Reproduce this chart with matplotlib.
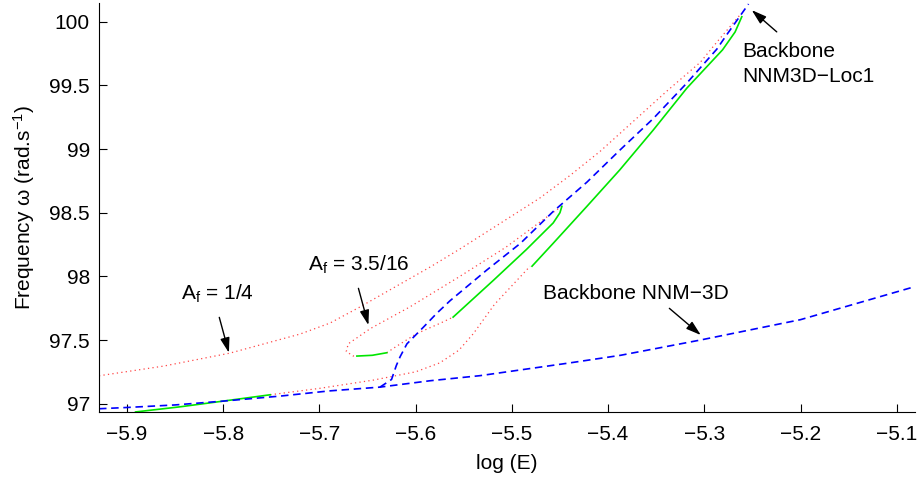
import matplotlib
matplotlib.use('Agg')
import matplotlib.pyplot as plt

plt.rcParams['font.family'] = ['Liberation Sans', 'DejaVu Sans']
plt.rcParams['mathtext.fontset'] = 'custom'
plt.rcParams['mathtext.rm'] = 'Liberation Sans'
plt.rcParams['mathtext.it'] = 'Liberation Sans:italic'

FS = 15

# backbone curves (blue dashed)
bb_nnm3d_x = [-5.929, -5.9, -5.85, -5.8, -5.74, -5.69, -5.637, -5.585, -5.533,
              -5.44, -5.387, -5.304, -5.2, -5.081]
bb_nnm3d_y = [96.96, 96.97, 96.99, 97.02, 97.06, 97.10, 97.13, 97.18, 97.22,
              97.32, 97.38, 97.50, 97.66, 97.92]

bb_loc1_x = [-5.637, -5.625, -5.620, -5.616, -5.609, -5.592, -5.578, -5.564, -5.526,
             -5.491, -5.457, -5.422, -5.388, -5.353, -5.318, -5.304, -5.287, -5.277, -5.254]
bb_loc1_y = [97.13, 97.19, 97.30, 97.37, 97.47, 97.60, 97.71, 97.81, 98.05,
             98.26, 98.51, 98.74, 98.99, 99.24, 99.52, 99.64, 99.785, 99.895, 100.14]

# forced response Af = 1/4 : stable (green) and unstable (red dotted) parts
af1_stable1_x = [-5.891, -5.845, -5.8, -5.751]
af1_stable1_y = [96.935, 96.975, 97.02, 97.07]
af1_unstable_low_x = [-5.751, -5.70, -5.644, -5.60, -5.575, -5.555, -5.540, -5.518, -5.481]
af1_unstable_low_y = [97.07, 97.12, 97.185, 97.25, 97.32, 97.42, 97.55, 97.78, 98.08]
af1_stable2_x = [-5.479, -5.457, -5.422, -5.388, -5.353, -5.318, -5.281, -5.268, -5.261]
af1_stable2_y = [98.08, 98.26, 98.55, 98.835, 99.15, 99.48, 99.78, 99.92, 100.04]
af1_unstable_up_x = [-5.929, -5.862, -5.793, -5.720, -5.689, -5.658, -5.616, -5.585,
                     -5.554, -5.512, -5.471, -5.439, -5.408, -5.339, -5.304, -5.287, -5.263]
af1_unstable_up_y = [97.219, 97.295, 97.397, 97.547, 97.633, 97.759, 97.94, 98.073,
                     98.215, 98.417, 98.615, 98.796, 98.984, 99.455, 99.683, 99.84, 100.053]

# forced response Af = 3.5/16
af2_stable1_x = [-5.661, -5.645, -5.630]
af2_stable1_y = [97.374, 97.38, 97.40]
af2_unstable_low_x = [-5.630, -5.620, -5.599, -5.575, -5.561]
af2_unstable_low_y = [97.40, 97.45, 97.55, 97.63, 97.68]
af2_stable2_x = [-5.561, -5.519, -5.485, -5.457, -5.450, -5.448]
af2_stable2_y = [97.68, 97.97, 98.21, 98.42, 98.50, 98.55]
af2_unstable_up_x = [-5.448, -5.454, -5.506, -5.554, -5.606, -5.647, -5.670, -5.672,
                     -5.665, -5.661]
af2_unstable_up_y = [98.55, 98.52, 98.23, 98.00, 97.76, 97.59, 97.47, 97.41,
                     97.375, 97.374]

x_ticks = [-5.9, -5.8, -5.7, -5.6, -5.5, -5.4, -5.3, -5.2, -5.1]
y_ticks = [97, 97.5, 98, 98.5, 99, 99.5, 100]
y_tick_labels = ['97', '97.5', '98', '98.5', '99', '99.5', '100']

RED = '#ff4646'
GREEN = '#00e600'
BLUE = '#0000ff'

fig = plt.figure(figsize=(9.2, 4.8), dpi=100)
ax = fig.add_axes([0.1076, 0.141, 0.887, 0.852])

red_style = dict(color=RED, lw=0.9, linestyle=(0, (1, 2.6)))
for xs, ys in [(af1_unstable_low_x, af1_unstable_low_y), (af1_unstable_up_x, af1_unstable_up_y),
               (af2_unstable_low_x, af2_unstable_low_y), (af2_unstable_up_x, af2_unstable_up_y)]:
    ax.plot(xs, ys, **red_style)

for xs, ys in [(af1_stable1_x, af1_stable1_y), (af1_stable2_x, af1_stable2_y),
               (af2_stable1_x, af2_stable1_y), (af2_stable2_x, af2_stable2_y)]:
    ax.plot(xs, ys, color=GREEN, lw=1.2)

blue_style = dict(color=BLUE, lw=1.2, linestyle=(0, (4.5, 2.8)))
ax.plot(bb_nnm3d_x, bb_nnm3d_y, **blue_style)
ax.plot(bb_loc1_x, bb_loc1_y, **blue_style)

ax.set_xlim(-5.929, -5.081)
ax.set_ylim(96.932, 100.145)
ax.set_xticks(x_ticks)
ax.set_yticks(y_ticks)
ax.set_yticklabels(y_tick_labels)
ax.tick_params(direction='in', length=6, width=0.8, labelsize=FS)
ax.tick_params(axis='x', pad=9)
ax.tick_params(axis='y', pad=6.5)
ax.spines['top'].set_visible(False)
ax.spines['right'].set_visible(False)
ax.set_xlabel('log (E)', fontsize=FS, labelpad=7)
ax.set_ylabel('Frequency ω (rad.s$^{-1}$)', fontsize=FS, labelpad=9)

arrow = dict(arrowstyle='-|>,head_length=0.9,head_width=0.28', color='k', lw=1.0,
             shrinkA=0, shrinkB=0, mutation_scale=10)

ax.text(-5.8057, 97.819, r'A$_{\mathrm{f}}$ = 1/4', fontsize=FS, ha='center', va='baseline')
ax.annotate('', xy=(-5.794, 97.40), xytext=(-5.804, 97.678), arrowprops=arrow)

ax.text(-5.6585, 98.044, r'A$_{\mathrm{f}}$ = 3.5/16', fontsize=FS, ha='center', va='baseline')
ax.annotate('', xy=(-5.649, 97.617), xytext=(-5.6594, 97.906), arrowprops=arrow)

ax.text(-5.3714, 97.819, 'Backbone NNM\u22123D', fontsize=FS, ha='center', va='baseline')
ax.annotate('', xy=(-5.3036, 97.539), xytext=(-5.3363, 97.749), arrowprops=arrow)

ax.text(-5.261, 99.725, 'Backbone', fontsize=FS, ha='left', va='baseline')
ax.text(-5.261, 99.529, 'NNM3D\u2212Loc1', fontsize=FS, ha='left', va='baseline')
ax.annotate('', xy=(-5.2507, 100.092), xytext=(-5.2247, 99.921), arrowprops=arrow)

fig.savefig('out.png', dpi=100)
